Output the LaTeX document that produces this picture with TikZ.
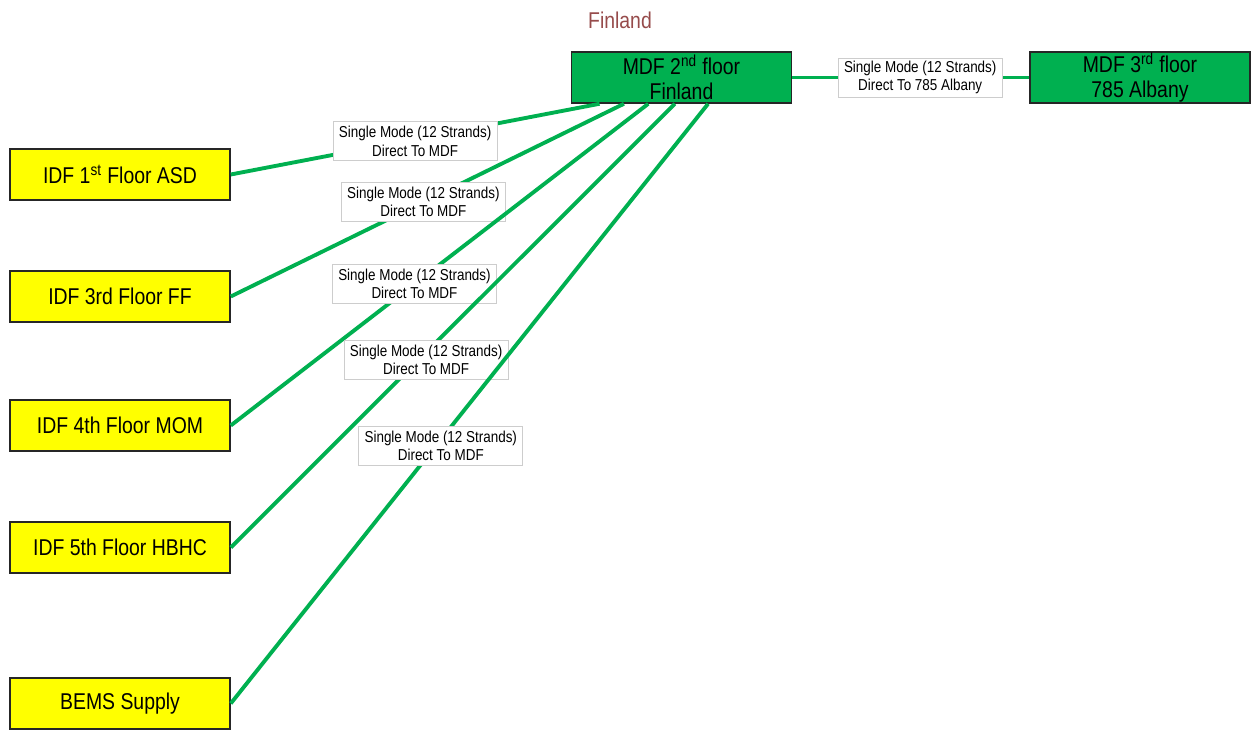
\documentclass[tikz,border=0pt]{standalone}
\usepackage{fontspec}
\setmainfont[FakeStretch=0.85]{Liberation Sans}
\usetikzlibrary{calc}

\definecolor{mdfgreen}{RGB}{0,176,80}
\definecolor{idfyellow}{RGB}{255,255,0}
\definecolor{titlered}{RGB}{150,75,75}
\definecolor{lblgray}{RGB}{205,205,205}

\tikzset{
	closet/.style={draw=black!85, line width=0.9pt, minimum width=4.4cm, minimum height=1.02cm,
		inner sep=0pt, align=center, font=\fontsize{13}{14.5}\selectfont},
	idf/.style={closet, fill=idfyellow},
	mdf/.style={closet, fill=mdfgreen},
	fiber/.style={mdfgreen, line width=2.2pt},
	strands/.style={draw=lblgray, line width=0.4pt, fill=white, minimum width=3.28cm,
		minimum height=0.78cm, inner sep=1pt, align=center, font=\fontsize{9}{10.5}\selectfont}
}

\begin{document}
\begin{tikzpicture}[x=0.02cm,y=-0.02cm]
	\useasboundingbox (0,0) rectangle (1252,730);

	\node[text=titlered, font=\fontsize{13}{15}\selectfont] (title) at (620,20) {Finland};

	\node[mdf] (mdf2) at (681.5,77.5) {MDF 2\textsuperscript{nd} floor\\Finland};
	\node[mdf] (mdf3) at (1140,77.5) {MDF 3\textsuperscript{rd} floor\\785 Albany};

	\node[idf] (idf1) at (120,174.5) {IDF 1\textsuperscript{st} Floor ASD};
	\node[idf] (idf3) at (120,296.5) {IDF 3rd Floor FF};
	\node[idf] (idf4) at (120,425.5) {IDF 4th Floor MOM};
	\node[idf] (idf5) at (120,547.5) {IDF 5th Floor HBHC};
	\node[idf] (bems) at (120,703.5) {BEMS Supply};

	\draw[fiber] (mdf2.east) -- node[strands, pos=0.54, text=black] {Single Mode (12 Strands)\\Direct To 785 Albany} (mdf3.west);

	\draw[fiber] (idf1.east) -- node[strands, pos=0.5, text=black, yshift=-0.04cm] {Single Mode (12 Strands)\\Direct To MDF}
		($(mdf2.south west)!0.13!(mdf2.south east)$);
	\draw[fiber] (idf3.east) -- node[strands, pos=0.49, text=black] {Single Mode (12 Strands)\\Direct To MDF}
		($(mdf2.south west)!0.24!(mdf2.south east)$);
	\draw[fiber] (idf4.east) -- node[strands, pos=0.44, text=black] {Single Mode (12 Strands)\\Direct To MDF}
		($(mdf2.south west)!0.35!(mdf2.south east)$);
	\draw[fiber] (idf5.east) -- node[strands, pos=0.44, text=black, yshift=-0.15cm] {Single Mode (12 Strands)\\Direct To MDF}
		($(mdf2.south west)!0.47!(mdf2.south east)$);
	\draw[fiber] (bems.east) -- node[strands, pos=0.44, text=black, yshift=-0.12cm] {Single Mode (12 Strands)\\Direct To MDF}
		($(mdf2.south west)!0.62!(mdf2.south east)$);
\end{tikzpicture}
\end{document}
